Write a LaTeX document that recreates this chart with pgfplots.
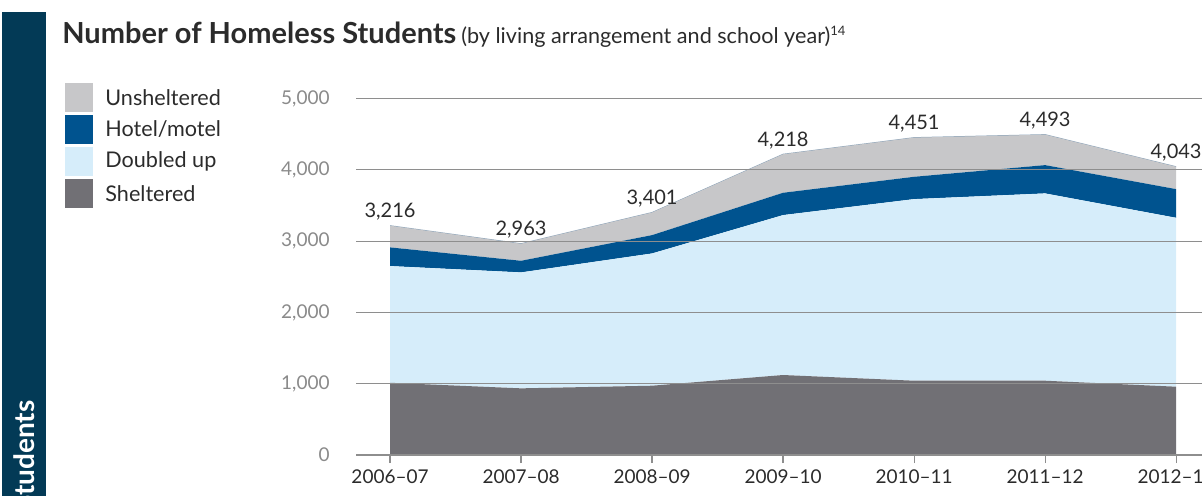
\documentclass[border=0pt]{standalone}
\usepackage{fontspec}
\setmainfont{Lato}
\usepackage{pgfplots}
\pgfplotsset{compat=1.18}

\definecolor{barblue}{HTML}{033A56}
\definecolor{unsh}{HTML}{C7C7C9}
\definecolor{hotel}{HTML}{00538F}
\definecolor{doubled}{HTML}{D6EDFA}
\definecolor{shelt}{HTML}{717075}
\definecolor{gridgray}{HTML}{8E8E8E}
\definecolor{tickgray}{HTML}{8A8A8A}
\definecolor{edge}{HTML}{8FA5BA}
\definecolor{txt}{HTML}{2B2B2B}

\begin{document}
\begin{tikzpicture}
% side band
\fill[barblue] (1pt,-5pt) rectangle (23pt,241.5pt);
\node[rotate=90, anchor=base east, inner sep=0pt, text=white,
      font=\bfseries\fontsize{14}{16}\selectfont] at (17.5pt,47.5pt) {Students};

% title
\node[anchor=base west, inner sep=0pt, text=txt] at (31pt,226pt)
  {{\bfseries\fontsize{14.5}{16}\selectfont Number of Homeless Students}
   {\fontsize{10.8}{12}\selectfont (by living arrangement and school year)\textsuperscript{\fontsize{6.5}{7}\selectfont 14}}};

% legend
\foreach \c/\t [count=\i from 0] in {unsh/Unsheltered,hotel/{Hotel/motel},doubled/Doubled up,shelt/Sheltered}{
  \fill[\c] (32.5pt,{206-16*\i pt}) rectangle (46.5pt,{191.5-16*\i pt});
  \node[anchor=west, inner sep=0pt, text=txt, font=\fontsize{10.8}{12}\selectfont]
    at (52.5pt,{198.75-16*\i pt}) {\t};
}

\begin{axis}[
  at={(178pt,20pt)}, anchor=south west,
  scale only axis, width=442.8pt, height=178.25pt,
  xmin=-0.26, xmax=6.5, ymin=0, ymax=5000,
  stack plots=y, area style,
  axis x line*=bottom, axis y line*=left,
  y axis line style={draw=none},
  x axis line style={gridgray, line width=0.8pt},
  xtick={0,...,6},
  xticklabels={2006--07,2007--08,2008--09,2009--10,2010--11,2011--12,2012--13},
  ytick={0,1000,...,5000},
  ymajorgrids, grid style={gridgray, line width=0.5pt},
  tick align=outside, major tick length=4pt,
  x tick style={gridgray, line width=0.6pt},
  y tick style={draw=none},
  xticklabel style={font=\fontsize{9.5}{11}\selectfont, text=txt, inner sep=3pt},
  yticklabel style={font=\fontsize{9.5}{10}\selectfont, text=tickgray, anchor=east, inner sep=0pt, xshift=-9pt},
  /pgf/number format/.cd, 1000 sep={,}, assume math mode=true,
]
\addplot[fill=shelt, draw=none] coordinates {(0,1013)(1,935)(2,972)(3,1122)(4,1042)(5,1042)(6,958)} \closedcycle;
\addplot[fill=doubled, draw=none] coordinates {(0,1637)(1,1626)(2,1855)(3,2243)(4,2547)(5,2627)(6,2369)} \closedcycle;
\addplot[fill=hotel, draw=none] coordinates {(0,262)(1,163)(2,257)(3,313)(4,313)(5,397)(6,402)} \closedcycle;
\addplot[fill=unsh, draw=none] coordinates {(0,304)(1,239)(2,317)(3,540)(4,549)(5,427)(6,314)} \closedcycle;
\addplot[draw=edge, line width=0.5pt, fill=none, point meta=explicit,
  nodes near coords={\pgfmathprintnumber{\pgfplotspointmeta}},
  every node near coord/.append style={font=\fontsize{10}{12}\selectfont, text=txt,
    anchor=base, inner sep=0pt, yshift=4pt}]
  coordinates {(0,0)[3216](1,0)[2963](2,0)[3401](3,0)[4218](4,0)[4451](5,0)[4493](6,0)[4043]};
\end{axis}
\pgfresetboundingbox
\useasboundingbox (0,0) rectangle (601pt,247.5pt);
\end{tikzpicture}
\end{document}
